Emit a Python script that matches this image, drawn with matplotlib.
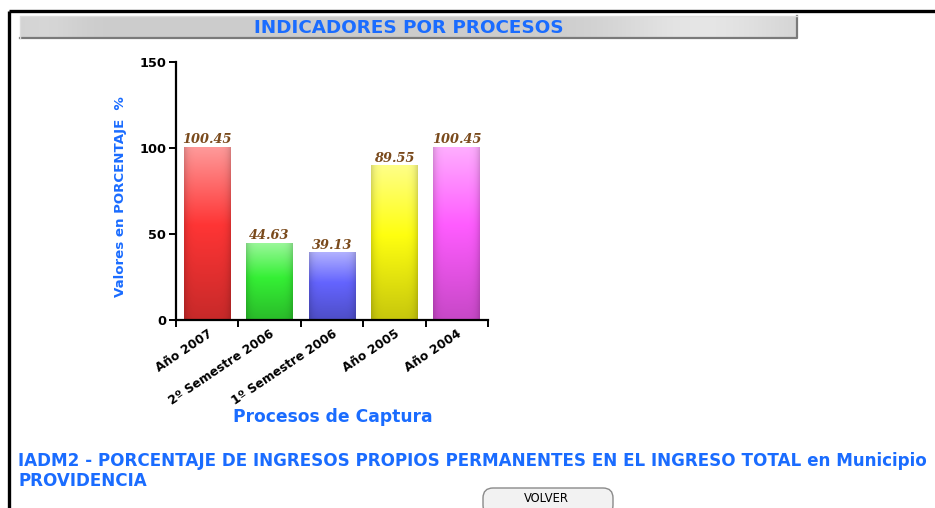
import numpy as np
import matplotlib
matplotlib.use('Agg')
import matplotlib.pyplot as plt
from matplotlib.patches import FancyBboxPatch
from matplotlib.colors import to_rgb

# chart data
categorias = ['Año 2007', '2º Semestre 2006', '1º Semestre 2006', 'Año 2005', 'Año 2004']
valores = [100.45, 44.63, 39.13, 89.55, 100.45]
etiquetas = ['100.45', '44.63', '39.13', '89.55', '100.45']
yticks = [0, 50, 100, 150]

colores = ['#ff3535', '#35f035', '#6464ff', '#ffff10', '#ff5cff']
azul = '#1a6cff'

W, H = 935, 508
fig = plt.figure(figsize=(W / 100, H / 100), dpi=100)
fig.patch.set_facecolor('white')

# page layer in pixel coordinates
bg = fig.add_axes([0, 0, 1, 1])
bg.set_xlim(0, W)
bg.set_ylim(H, 0)
bg.axis('off')

# outer frame
bg.plot([8.5, W], [10.5, 10.5], color='black', lw=2.4, solid_capstyle='butt')
bg.plot([8.5, 8.5], [10.5, H], color='black', lw=2.4, solid_capstyle='butt')

# header bar with gray gradient
u = np.linspace(0, 1, 400)
shade = 0.80 + 0.10 * np.exp(-((u - 0.88) / 0.12) ** 2) + 0.04 * np.exp(-((u - 0.03) / 0.05) ** 2)
grad = np.repeat(shade[None, :], 20, axis=0)
grad = np.dstack([grad, grad, grad])
bg.imshow(grad, extent=(20, 797, 38, 16), aspect='auto', zorder=1)
bg.plot([20, 797, 797], [37.5, 37.5, 16], color='#7a7a7a', lw=1.6, zorder=2)
bg.plot([20, 20, 797], [38, 16, 16], color='#dcdcdc', lw=1.0, zorder=2)
bg.text(409, 28, 'INDICADORES POR PROCESOS', color=azul, fontsize=13.2,
        fontweight='bold', family='DejaVu Sans', ha='center', va='center', zorder=3)

# bottom caption
bg.text(18, 461, 'IADM2 - PORCENTAJE DE INGRESOS PROPIOS PERMANENTES EN EL INGRESO TOTAL en Municipio',
        color=azul, fontsize=12.05, family='DejaVu Sans', fontweight='bold', ha='left', va='center')
bg.text(18, 481, 'PROVIDENCIA', color=azul, fontsize=12.05, family='DejaVu Sans',
        fontweight='bold', ha='left', va='center')

# VOLVER button
btn = FancyBboxPatch((483, 488), 130, 27, boxstyle='round,pad=0,rounding_size=10',
                     facecolor='#f2f2f2', edgecolor='#8a8a8a', lw=1.0, zorder=2)
bg.add_patch(btn)
bg.text(546, 498.5, 'VOLVER', color='black', fontsize=8.3, family='DejaVu Sans',
        ha='center', va='center', zorder=3)

# bar chart
ax = fig.add_axes([176 / W, 1 - 320 / H, 312 / W, 258 / H])
ax.set_facecolor('none')

def bar_image(c, n=200, m=60):
    c = np.array(to_rgb(c))
    top = c + (1 - c) * 0.5
    bot = c * 0.78
    t = np.linspace(0, 1, n)[:, None]
    a = np.clip(t / 0.45, 0, 1)
    b = np.clip((t - 0.45) / 0.55, 0, 1)
    col = np.where(t[..., None] < 0.45,
                   top * (1 - a[..., None]) + c * a[..., None],
                   c * (1 - b[..., None]) + bot * b[..., None])
    col = np.repeat(col, m, axis=1)
    s = np.linspace(-1, 1, m)
    edge = 1 - 0.16 * np.abs(s) ** 6
    return np.clip(col * edge[None, :, None], 0, 1)

ancho = 0.75
for i, (v, c, lab) in enumerate(zip(valores, colores, etiquetas)):
    ax.imshow(bar_image(c), extent=(i - ancho / 2, i + ancho / 2, 0, v),
              aspect='auto', origin='upper', zorder=2)
    ax.text(i, v + 0.6, lab, ha='center', va='bottom', family='DejaVu Serif',
            style='italic', fontweight='bold', fontsize=9.3, color='#7a4a1c', zorder=3)

ax.set_xlim(-0.5, 4.5)
ax.set_ylim(0, 150)
ax.spines['top'].set_visible(False)
ax.spines['right'].set_visible(False)
for s in ['left', 'bottom']:
    ax.spines[s].set_linewidth(1.6)
    ax.spines[s].set_zorder(4)

ax.set_yticks(yticks)
ax.set_yticklabels([str(t) for t in yticks], fontsize=9.3, fontweight='bold', family='DejaVu Sans')
ax.tick_params(axis='y', length=5, width=1.4, pad=2)

ax.set_xticks(range(len(categorias)))
ax.set_xticks(np.arange(-0.5, len(categorias)), minor=True)
ax.set_xticklabels(categorias, rotation=34, ha='right', va='top', rotation_mode='anchor',
                   fontsize=8.8, fontweight='bold', family='DejaVu Sans')
ax.tick_params(axis='x', which='major', length=0, pad=5)
ax.tick_params(axis='x', which='minor', length=5, width=1.4)

fig.text(120 / W, 1 - 197 / H, 'Valores en PORCENTAJE  %', rotation=90, color=azul,
         fontsize=9.6, fontweight='bold', family='DejaVu Sans',
         ha='center', va='center')
fig.text(333 / W, 1 - 417 / H, 'Procesos de Captura', color=azul, fontsize=12.3,
         fontweight='bold', family='DejaVu Sans', ha='center', va='center')

fig.savefig('out.png', dpi=100)
